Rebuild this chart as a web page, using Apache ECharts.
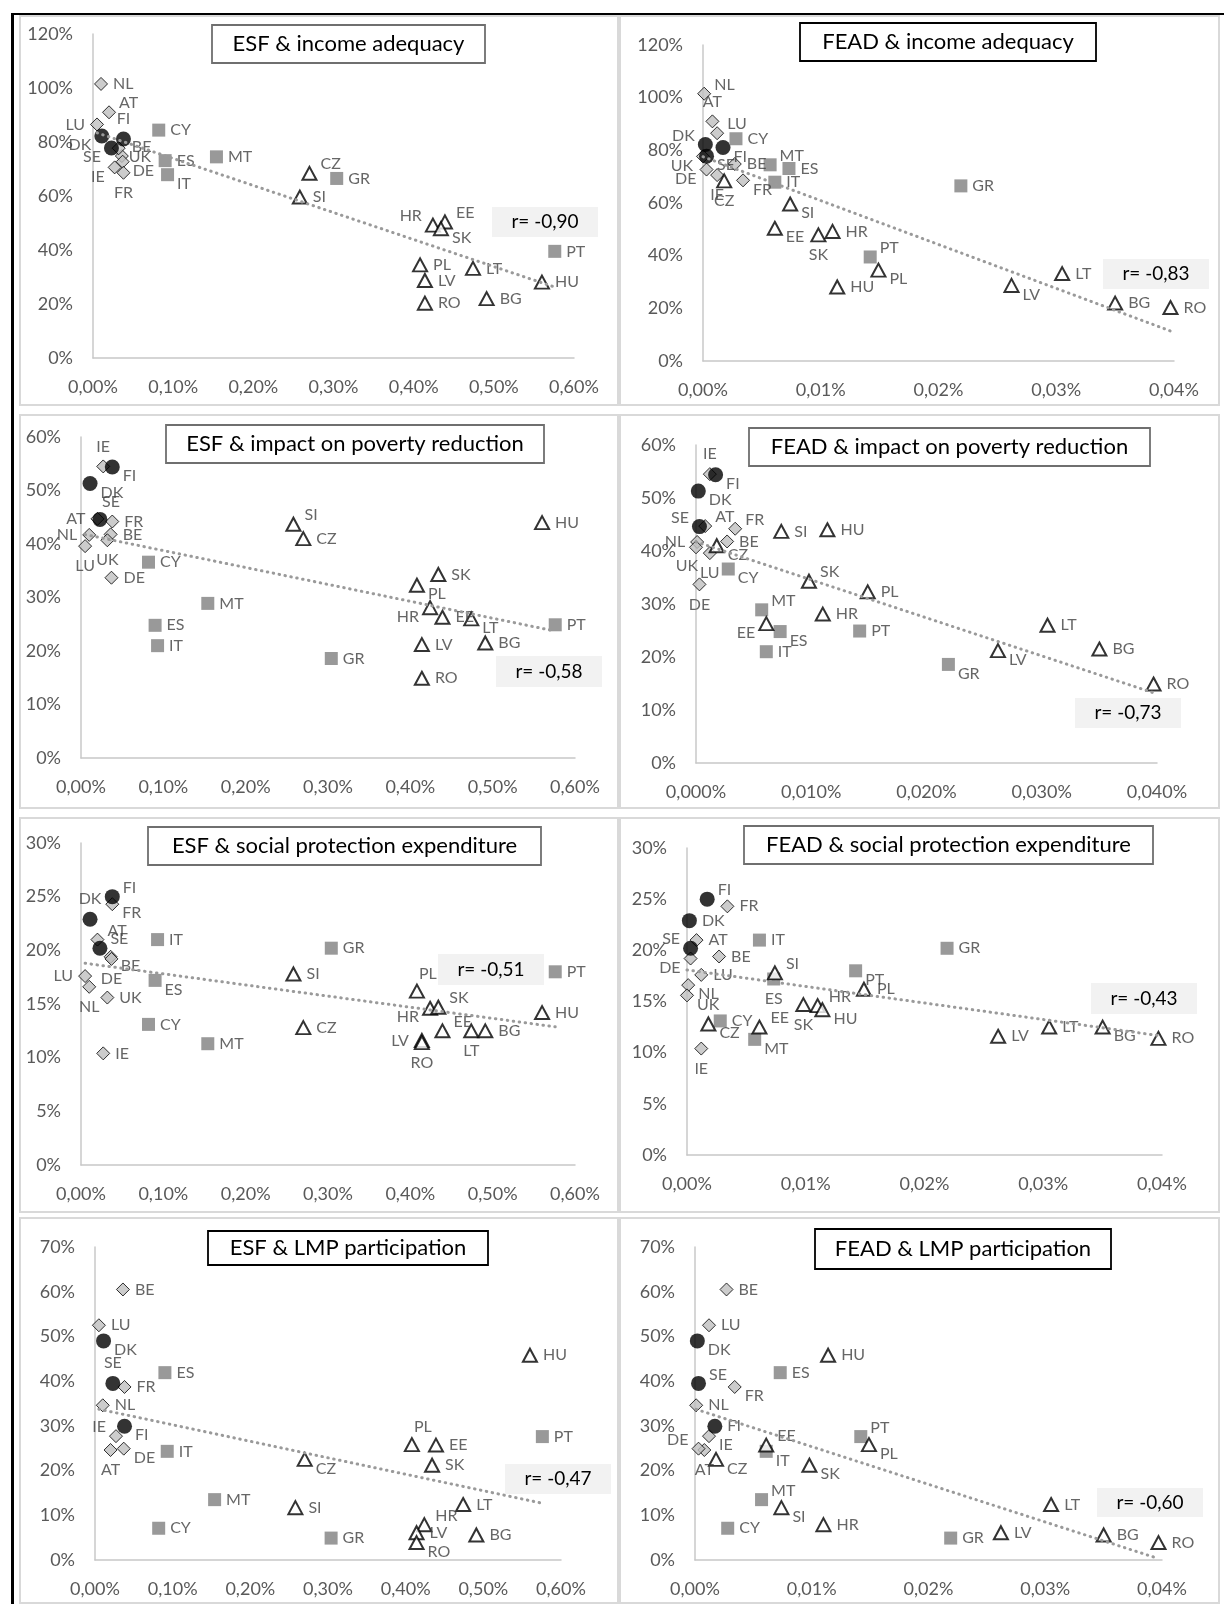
<!DOCTYPE html>
<html>
<head>
<meta charset="utf-8">
<script src="https://cdn.jsdelivr.net/npm/echarts@6/dist/echarts.min.js"></script>
<style>
  html, body { margin: 0; background: #fff; }
  #chart { width: 1224px; height: 1604px; }
</style>
</head>
<body>
<div id="chart"></div>
<script>
// countries and their group (d = diamond, c = circle, s = square, t = triangle)
const countries = ['NL','AT','LU','BE','UK','IE','DE','FR','DK','FI','SE','CY','ES','IT','MT','GR','PT','CZ','SI','HR','EE','SK','PL','LV','LT','RO','BG','HU'];
const groups    = ['d','d','d','d','d','d','d','d','c','c','c','s','s','s','s','s','s','t','t','t','t','t','t','t','t','t','t','t'];

// x values (% of GDP)
const esfShare  = [0.010,0.020,0.005,0.036,0.032,0.027,0.037,0.038,0.011,0.038,0.023,0.082,0.090,0.093,0.154,0.304,0.576,0.270,0.258,0.424,0.439,0.434,0.408,0.414,0.474,0.414,0.491,0.560];
const feadShare = [0.0001,0.0008,0.0012,0.0027,0.0000,0.0012,0.0003,0.0034,0.0002,0.0017,0.0003,0.0028,0.0073,0.0061,0.0057,0.0219,0.0142,0.0018,0.0074,0.0110,0.0061,0.0098,0.0149,0.0262,0.0305,0.0397,0.0350,0.0114];

// y values (%)
const incomeAdequacy    = [101.5,91.0,86.5,74.8,77.7,70.6,72.7,68.6,82.2,81.1,77.8,84.4,73.1,67.9,74.5,66.5,39.5,68.4,59.6,49.2,50.4,47.9,34.5,28.7,33.2,20.3,22.0,28.1];
const povertyImpact     = [41.7,44.7,39.6,41.8,40.7,54.5,33.7,44.2,51.3,54.4,44.6,36.6,24.8,21.0,28.9,18.6,24.9,41.0,43.7,28.1,26.3,34.3,32.3,21.2,26.0,14.9,21.5,44.0];
const socialExpenditure = [16.6,21.0,17.6,19.4,15.6,10.4,19.2,24.3,22.9,25.0,20.2,13.1,17.2,21.0,11.3,20.2,18.0,12.8,17.8,14.6,12.5,14.7,16.2,11.6,12.5,11.4,12.5,14.2];
const lmpParticipation  = [34.6,24.6,52.5,60.5,null,27.7,24.9,38.7,49.0,29.9,39.5,7.1,41.9,24.3,13.5,4.9,27.6,22.5,11.7,7.9,25.7,21.2,25.8,6.1,12.4,3.9,5.6,45.8];

const panelTitles = ['ESF & income adequacy','FEAD & income adequacy','ESF & impact on poverty reduction','FEAD & impact on poverty reduction','ESF & social protection expenditure','FEAD & social protection expenditure','ESF & LMP participation','FEAD & LMP participation'];
const rValues = ['r= -0,90','r= -0,83','r= -0,58','r= -0,73','r= -0,51','r= -0,43','r= -0,47','r= -0,60'];

const FONT = 'Lato, "Open Sans", sans-serif';

// layout of each panel
const panels = [
  { xs: esfShare,  ys: incomeAdequacy,    yMax: 120, yStep: 20, grid: [93, 34, 481, 324],  title: [212, 25, 273, 38],  tb: '#6f6f6f', r: [492, 207, 106, 30],
    labels: {LU:'l', FI:'t', DK:'bl', SE:'bl', UK:'br', IE:'bl', FR:'b', DE:'br', BE:'tr', IT:'br', CZ:'tr', HR:'tl', EE:'tr', SK:'br', AT:'tr'} },
  { xs: feadShare, ys: incomeAdequacy,    yMax: 120, yStep: 20, grid: [703, 45, 471, 316], title: [800, 23, 296, 38],  tb: '#000', r: [1103, 259, 106, 30],
    labels: {NL:'tr', AT:'t', LU:'tr', DK:'tl', FI:'br', MT:'tr', SE:'br', UK:'bl', DE:'bl', IE:'b', CZ:'b', FR:'br', SI:'br', EE:'br', SK:'b', PT:'tr', PL:'br', LV:'br'} },
  { xs: esfShare,  ys: povertyImpact,     yMax: 60, yStep: 10,  grid: [81, 437, 494, 321], title: [166, 425, 378, 38], tb: '#6f6f6f', r: [496, 656, 106, 31],
    labels: {IE:'t', FI:'br', DK:'br', SE:'tt', AT:'l', NL:'l', UK:'b', LU:'b', HR:'bl', PL:'br', LT:'br', SI:'tr'} },
  { xs: feadShare, ys: povertyImpact,     yMax: 60, yStep: 10,  grid: [696, 445, 461, 318], title: [749, 428, 401, 38], tb: '#6f6f6f', r: [1075, 698, 106, 30], dec: 3,
    labels: {IE:'t', FI:'br', DK:'br', SE:'tl', AT:'tr', FR:'tr', NL:'l', CZ:'br', UK:'bb', LU:'b', DE:'b', CY:'br', SK:'tr', MT:'tr', EE:'bl', ES:'br', GR:'br', LV:'br'} },
  { xs: esfShare,  ys: socialExpenditure, yMax: 30, yStep: 5,   grid: [81, 843, 494, 322], title: [148, 827, 393, 38], tb: '#6f6f6f', r: [438, 954, 106, 31],
    labels: {FI:'tr', DK:'t', FR:'br', AT:'tr', SE:'tr', BE:'br', DE:'b', LU:'l', NL:'b', ES:'br', PL:'tt', HR:'bl', SK:'tr', EE:'tr', LT:'b', LV:'l', RO:'b'} },
  { xs: feadShare, ys: socialExpenditure, yMax: 30, yStep: 5,   grid: [687, 848, 475, 307], title: [744, 826, 409, 38], tb: '#6f6f6f', r: [1091, 983, 106, 31],
    labels: {FI:'tr', SE:'tl', DE:'bl', NL:'br', UK:'br', IE:'b', SI:'tr', ES:'b', PT:'br', SK:'b', HU:'br', EE:'tr', CZ:'br', MT:'br', BG:'br', HR:'tr'} },
  { xs: esfShare,  ys: lmpParticipation,  yMax: 70, yStep: 10,  grid: [95, 1247, 466, 313], title: [208, 1231, 280, 34], tb: '#000', r: [505, 1464, 106, 30],
    labels: {DK:'br', SE:'t', IE:'tl', FI:'br', AT:'b', DE:'br', PL:'tt', CZ:'br', HR:'tr', RO:'br'} },
  { xs: feadShare, ys: lmpParticipation,  yMax: 70, yStep: 10,  grid: [695, 1247, 467, 313], title: [815, 1229, 296, 40], tb: '#000', r: [1097, 1488, 106, 29],
    labels: {DK:'br', SE:'tr', FR:'br', DE:'tl', IE:'br', AT:'b', CZ:'br', EE:'tr', IT:'br', PT:'tr', PL:'br', SK:'br', MT:'tr', SI:'br'} }
];

const POS = {
  r:  { position: 'right' },
  l:  { position: 'left' },
  t:  { position: 'top' },
  b:  { position: 'bottom' },
  tt: { position: 'top', offset: [11, 3] },
  bb: { position: 'bottom', offset: [-9, -1] },
  tr: { position: 'right', offset: [-2, -9] },
  br: { position: 'right', offset: [-2, 9] },
  tl: { position: 'left', offset: [2, -9] },
  bl: { position: 'left', offset: [2, 9] }
};

const markers = {
  d: { symbol: 'diamond',  symbolSize: [13, 13], itemStyle: { color: '#bfbfbf', borderColor: '#000', borderWidth: 1 } },
  c: { symbol: 'circle',   symbolSize: 15,       itemStyle: { color: '#000' } },
  s: { symbol: 'rect',     symbolSize: 13,       itemStyle: { color: '#7f7f7f' } },
  t: { symbol: 'triangle', symbolSize: [14, 13], itemStyle: { color: '#fff', borderColor: '#000', borderWidth: 2 } }
};

// least-squares trend line across the data range
function trend(xs, ys) {
  const pts = xs.map((x, i) => [x, ys[i]]).filter(p => p[1] != null);
  const n = pts.length;
  const mx = pts.reduce((a, p) => a + p[0], 0) / n;
  const my = pts.reduce((a, p) => a + p[1], 0) / n;
  let sxy = 0, sxx = 0;
  pts.forEach(p => { sxy += (p[0] - mx) * (p[1] - my); sxx += (p[0] - mx) * (p[0] - mx); });
  const b = sxy / sxx, a = my - b * mx;
  const x0 = Math.min(...pts.map(p => p[0])), x1 = Math.max(...pts.map(p => p[0]));
  return [[x0, a + b * x0], [x1, a + b * x1]];
}

const grid = [], xAxis = [], yAxis = [], series = [], graphic = [];

// panel frames and outer black lines
const cols = [[20, 598], [620, 599]];
const rows = [[16, 389], [415, 393], [818, 394], [1218, 385]];
rows.forEach(r => cols.forEach(c => {
  graphic.push({ type: 'rect', z: -1, shape: { x: c[0], y: r[0], width: c[1], height: r[1] }, style: { fill: null, stroke: '#d9d9d9', lineWidth: 2 } });
}));
graphic.push({ type: 'line', shape: { x1: 12.5, y1: 13, x2: 12.5, y2: 1604 }, style: { stroke: '#000', lineWidth: 3 } });
graphic.push({ type: 'line', shape: { x1: 11, y1: 14, x2: 1224, y2: 14 }, style: { stroke: '#000', lineWidth: 2 } });

panels.forEach((p, i) => {
  const isFead = p.xs === feadShare;
  const dec = p.dec || 2;
  grid.push({ left: p.grid[0], top: p.grid[1], width: p.grid[2], height: p.grid[3], outerBoundsMode: 'none' });
  xAxis.push({
    gridIndex: i, type: 'value', min: 0, max: isFead ? 0.04 : 0.6, interval: isFead ? 0.01 : 0.1,
    splitLine: { show: false }, axisTick: { show: false },
    axisLine: { lineStyle: { color: '#c8c8c8', width: 1.5 } },
    axisLabel: { margin: 20, color: '#595959', fontSize: 18, fontFamily: FONT,
      formatter: v => v.toFixed(dec).replace('.', ',') + '%' }
  });
  yAxis.push({
    gridIndex: i, type: 'value', min: 0, max: p.yMax, interval: p.yStep,
    splitLine: { show: false }, axisTick: { show: false },
    axisLine: { show: true, lineStyle: { color: '#c8c8c8', width: 1.5 } },
    axisLabel: { margin: 20, color: '#595959', fontSize: 18, fontFamily: FONT, formatter: v => v + '%' }
  });

  ['d', 'c', 's', 't'].forEach(g => {
    const data = [];
    countries.forEach((c, k) => {
      if (groups[k] !== g || p.ys[k] == null) return;
      data.push({ name: c, value: [p.xs[k], p.ys[k]], label: POS[p.labels[c] || 'r'] });
    });
    series.push(Object.assign({
      type: 'scatter', xAxisIndex: i, yAxisIndex: i, data: data, z: 2, silent: true,
      label: { show: true, formatter: '{b}', color: '#404040', fontSize: 16, fontFamily: FONT, distance: 5 }
    }, markers[g]));
  });

  series.push({
    type: 'line', xAxisIndex: i, yAxisIndex: i, data: trend(p.xs, p.ys), showSymbol: false, silent: true, z: 3,
    lineStyle: { color: '#9a9a9a', width: 3, type: [0.5, 5.5], cap: 'round' }
  });

  graphic.push({ type: 'rect', z: 10, shape: { x: p.title[0], y: p.title[1], width: p.title[2], height: p.title[3] },
    style: { fill: '#fff', stroke: p.tb, lineWidth: 1.8 } });
  graphic.push({ type: 'text', z: 11, x: p.title[0] + p.title[2] / 2, y: p.title[1] + p.title[3] / 2,
    style: { text: panelTitles[i], fill: '#000', font: '22px ' + FONT, align: 'center', verticalAlign: 'middle' } });
  graphic.push({ type: 'rect', z: 10, shape: { x: p.r[0], y: p.r[1], width: p.r[2], height: p.r[3] },
    style: { fill: '#f2f2f2' } });
  graphic.push({ type: 'text', z: 11, x: p.r[0] + p.r[2] / 2, y: p.r[1] + p.r[3] / 2,
    style: { text: rValues[i], fill: '#000', font: '19px ' + FONT, align: 'center', verticalAlign: 'middle' } });
});

const chart = echarts.init(document.getElementById('chart'));
chart.setOption({
  animation: false,
  backgroundColor: '#fff',
  grid: grid,
  xAxis: xAxis,
  yAxis: yAxis,
  series: series,
  graphic: graphic
});
</script>
</body>
</html>
